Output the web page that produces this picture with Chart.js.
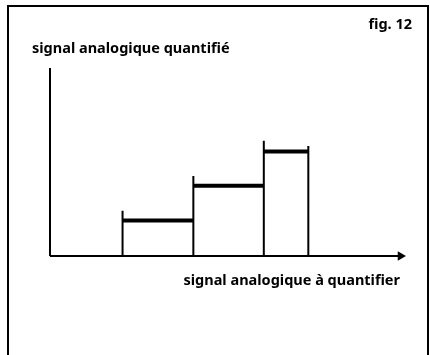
<!DOCTYPE html>
<html lang="fr">
<head>
<meta charset="UTF-8">
<title>fig. 12</title>
<script src="https://cdn.jsdelivr.net/npm/chart.js"></script>
<style>
  html, body { margin: 0; padding: 0; background: #fff; }
  #frame { position: absolute; left: 7px; top: 5px; width: 418px; height: 360px;
           border: 2px solid #000; border-bottom: none; }
  #wrap { position: absolute; left: 0; top: 0; width: 430px; height: 355px; }
</style>
</head>
<body>
<div id="frame"></div>
<div id="wrap"><canvas id="chart" width="430" height="355"></canvas></div>
<script>
// bornes des intervalles (axe horizontal) et niveaux quantifiés
const bounds = [2.07, 4.09, 6.1, 7.37];
const levels = [1.02, 2.02, 3.0];
const tickTops = [1.3, 2.3, 3.31, 3.16];
const xMax = 10;
const yMax = 5.4;

const xLabel = "signal analogique à quantifier";
const yLabel = "signal analogique quantifié";
const figLabel = "fig. 12";
const FONT = "bold 14.5px 'Noto Sans'";

// segments horizontaux (niveaux), séparés par des trous
const levelPts = [];
levels.forEach((v, i) => {
  levelPts.push({ x: bounds[i], y: v }, { x: bounds[i + 1], y: v }, { x: bounds[i + 1], y: null });
});

// traits verticaux aux bornes
const tickPts = [];
bounds.forEach((b, i) => {
  tickPts.push({ x: b, y: 0 }, { x: b, y: tickTops[i] }, { x: b, y: null });
});

const labels = {
  id: "labels",
  afterDraw(chart) {
    const c = chart.ctx;
    c.save();
    c.fillStyle = "#000";
    c.font = FONT;
    c.textAlign = "left";
    c.fillText(yLabel, 32, 53);
    c.textAlign = "right";
    c.fillText(figLabel, 412, 29);
    c.fillText(xLabel, 400, 285);
    c.restore();
  }
};

new Chart(document.getElementById("chart"), {
  type: "scatter",
  data: {
    datasets: [
      { data: tickPts, showLine: true, borderColor: "#000", borderWidth: 2, pointRadius: 0, clip: false },
      { data: levelPts, showLine: true, borderColor: "#000", borderWidth: 4, pointRadius: 0, clip: false },
      { data: [{ x: 0, y: 0 }, { x: 0, y: yMax }], showLine: true, borderColor: "#000", borderWidth: 2, pointRadius: 0, clip: false },
      { data: [{ x: 0, y: 0 }, { x: xMax, y: 0 }], showLine: true, borderColor: "#000", borderWidth: 2, pointRadius: 0, clip: false },
      { data: [{ x: xMax, y: 0 }], backgroundColor: "#000", borderWidth: 0, pointStyle: "triangle",
        rotation: 90, pointRadius: 5.5, clip: false }
    ]
  },
  options: {
    responsive: false,
    animation: false,
    layout: { padding: { left: 50, top: 68, right: 29.5, bottom: 99 } },
    scales: {
      x: { type: "linear", display: false, min: 0, max: xMax },
      y: { type: "linear", display: false, min: 0, max: yMax }
    },
    plugins: { legend: { display: false }, tooltip: { enabled: false } },
    events: []
  },
  plugins: [labels]
});
</script>
</body>
</html>
